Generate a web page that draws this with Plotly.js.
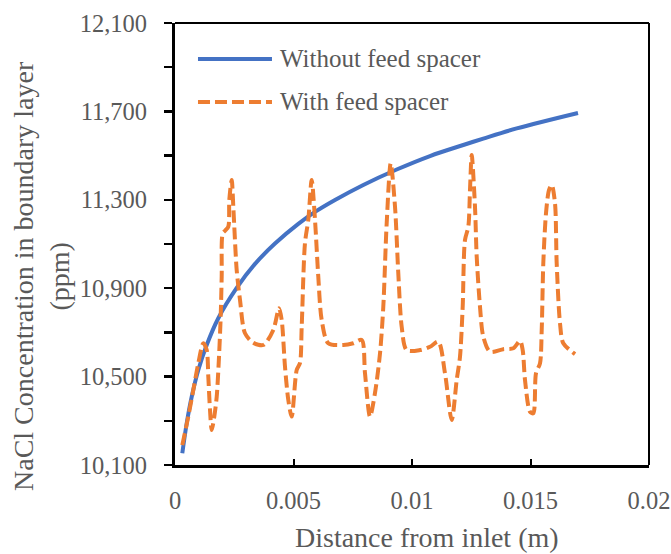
<!DOCTYPE html>
<html>
<head>
<meta charset="utf-8">
<script src="https://cdn.plot.ly/plotly-3.0.1.min.js"></script>
<style>html,body{margin:0;padding:0;background:#fff;}#chart{width:671px;height:554px;}</style>
</head>
<body>
<div id="chart"></div>
<script>
// Series names
const seriesNames = ["Without feed spacer", "With feed spacer"];

// Without feed spacer
const xNoSpacer = [0.000308, 0.000494, 0.000705, 0.000983, 0.001338, 0.001827, 0.002603, 0.003376, 0.004219, 0.005203, 0.005907, 0.006751, 0.007945, 0.009354, 0.01076, 0.012165, 0.013008, 0.014418, 0.017004];
const yNoSpacer = [10153, 10289, 10409, 10530, 10643, 10764, 10901, 11010, 11102, 11191, 11245, 11299, 11367, 11437, 11498, 11548, 11577, 11623, 11693];

// With feed spacer
const xSpacer = [0.000308, 0.000561, 0.000772, 0.000983, 0.001194, 0.001338, 0.001405, 0.001477, 0.001549, 0.001658, 0.00176, 0.001857, 0.001928, 0.00197, 0.002013, 0.00211, 0.002249, 0.002291, 0.002392, 0.00246, 0.002502, 0.002603, 0.002743, 0.002954, 0.003304, 0.003726, 0.004148, 0.004388, 0.004502, 0.004641, 0.004781, 0.004924, 0.005135, 0.005274, 0.005346, 0.005485, 0.005624, 0.005768, 0.005907, 0.006046, 0.00619, 0.006468, 0.007101, 0.007523, 0.007878, 0.008017, 0.008228, 0.008439, 0.00865, 0.008789, 0.008932, 0.009101, 0.009283, 0.009422, 0.009565, 0.009776, 0.010338, 0.01076, 0.01111, 0.011392, 0.011675, 0.011886, 0.012025, 0.012139, 0.012236, 0.012376, 0.012447, 0.012519, 0.012658, 0.01273, 0.012869, 0.013008, 0.013291, 0.013852, 0.014274, 0.014557, 0.014671, 0.014768, 0.014979, 0.015118, 0.015232, 0.015401, 0.015473, 0.01554, 0.015654, 0.01578, 0.015895, 0.016034, 0.016105, 0.016245, 0.016384, 0.016878];
const ySpacer = [10190, 10319, 10439, 10560, 10651, 10620, 10500, 10349, 10258, 10319, 10409, 10590, 10771, 10952, 11148, 11160, 11178, 11299, 11390, 11269, 11178, 10982, 10847, 10696, 10653, 10643, 10711, 10809, 10756, 10545, 10394, 10319, 10530, 10562, 10726, 11105, 11209, 11390, 11209, 10952, 10756, 10651, 10643, 10651, 10666, 10515, 10319, 10426, 10605, 10816, 11194, 11465, 11269, 10967, 10726, 10620, 10620, 10635, 10658, 10515, 10304, 10485, 10590, 10816, 11118, 11178, 11344, 11503, 11269, 11043, 10816, 10681, 10613, 10624, 10628, 10662, 10620, 10485, 10341, 10334, 10515, 10560, 10711, 11013, 11239, 11344, 11367, 11284, 11013, 10741, 10651, 10602];

// Axis settings
const xRange = [0, 0.02];
const yRange = [10100, 12100];

const BLUE = "#4472C4", ORANGE = "#ED7D31", TEXT = "#595959";
const FONT = "'Liberation Serif', 'Times New Roman', serif";
const blueLine = {color: BLUE, width: 4};
const orangeLine = {color: ORANGE, width: 4, dash: "12px,5px"};

const traces = [
  {x: xNoSpacer, y: yNoSpacer, name: seriesNames[0], mode: "lines", type: "scatter",
   line: Object.assign({shape: "spline", smoothing: 1}, blueLine), showlegend: false},
  {x: xSpacer, y: ySpacer, name: seriesNames[1], mode: "lines", type: "scatter",
   line: Object.assign({shape: "spline", smoothing: 0.8}, orangeLine), showlegend: false}
];

const layout = {
  width: 671, height: 554,
  margin: {l: 175, r: 22, t: 23, b: 89},
  paper_bgcolor: "#fff", plot_bgcolor: "#fff",
  font: {family: FONT, color: TEXT, size: 24.5},
  xaxis: {
    range: xRange, tickmode: "linear", tick0: 0, dtick: 0.005,
    showgrid: false, zeroline: false, showline: true, linecolor: "#000", linewidth: 3,
    ticks: "inside", ticklen: 6, tickwidth: 2, tickcolor: "#000",
    ticklabelstandoff: 12,
    tickfont: {family: FONT, size: 24.5, color: TEXT}
  },
  yaxis: {
    range: yRange, tickmode: "linear", tick0: 10100, dtick: 400, tickformat: ",d",
    showgrid: false, zeroline: false, showline: true, linecolor: "#000", linewidth: 3,
    ticks: "outside", ticklen: 8, tickwidth: 2.5, tickcolor: "#000",
    ticklabelstandoff: 12,
    minor: {tick0: 10100, dtick: 200, ticks: "outside", ticklen: 8, tickwidth: 2.5, tickcolor: "#000", showgrid: false},
    tickfont: {family: FONT, size: 24.5, color: TEXT}
  },
  shapes: [
    {type: "line", xref: "paper", yref: "paper", x0: 0, x1: 1, y0: 1, y1: 1, line: {color: "#000", width: 2}},
    {type: "line", xref: "paper", yref: "paper", x0: 1, x1: 1, y0: 0, y1: 1, line: {color: "#000", width: 2}},
    {type: "line", xref: "paper", yref: "paper", x0: 0.0485, x1: 0.2046, y0: 0.9186, y1: 0.9186, line: blueLine},
    {type: "line", xref: "paper", yref: "paper", x0: 0.0485, x1: 0.2046, y0: 0.8213, y1: 0.8213, line: orangeLine}
  ],
  annotations: [
    {text: seriesNames[0], xref: "paper", yref: "paper", x: 0.2173, y: 0.9186, xanchor: "left", yanchor: "middle", showarrow: false, font: {family: FONT, size: 25, color: TEXT}},
    {text: seriesNames[1], xref: "paper", yref: "paper", x: 0.2173, y: 0.8213, xanchor: "left", yanchor: "middle", showarrow: false, font: {family: FONT, size: 25, color: TEXT}},
    {text: "Distance from inlet (m)", xref: "paper", yref: "paper", x: 0.5327, y: -0.1629, xanchor: "center", yanchor: "middle", showarrow: false, font: {family: FONT, size: 28, color: TEXT}},
    {text: "NaCl Concentration in boundary layer<br>(ppm)", xref: "paper", yref: "paper", x: -0.2827, y: 0.4276, xanchor: "center", yanchor: "middle", textangle: -90, showarrow: false, font: {family: FONT, size: 28, color: TEXT}}
  ]
};

Plotly.newPlot("chart", traces, layout, {displayModeBar: false, staticPlot: true});
</script>
</body>
</html>
